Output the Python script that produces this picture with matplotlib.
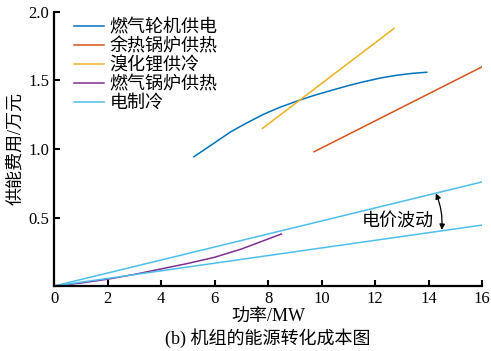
import matplotlib as mpl
import matplotlib.pyplot as plt
import numpy as np

mpl.rcParams["font.family"] = ["Liberation Serif", "Noto Sans CJK SC"]
mpl.rcParams["axes.unicode_minus"] = False

# 燃气轮机供电
gt_x = [5.23, 5.96, 6.6, 7.20, 7.85, 8.45, 9.13, 9.7, 10.32, 10.95, 11.56, 12.2, 12.81, 13.4, 13.93]
gt_y = [0.944, 1.04, 1.125, 1.19, 1.255, 1.305, 1.353, 1.39, 1.425, 1.46, 1.49, 1.518, 1.538, 1.552, 1.56]
# 余热锅炉供热
hb_x = [9.72, 16.0]
hb_y = [0.98, 1.60]
# 溴化锂供冷
li_x = [7.79, 12.71]
li_y = [1.15, 1.88]
# 燃气锅炉供热
gb_x = [0, 1, 2, 3, 4, 5, 6, 7, 8.5]
gb_y = [0, 0.022, 0.05, 0.085, 0.125, 0.165, 0.21, 0.27, 0.38]
# 电制冷 (两种电价)
ec_x = [0, 16]
ec_hi = [0, 0.76]
ec_lo = [0, 0.445]

colors = ["#0072BD", "#D95319", "#EDB120", "#7E2F8E", "#4DBEEE"]
labels = ["燃气轮机供电", "余热锅炉供热", "溴化锂供冷", "燃气锅炉供热", "电制冷"]

fig = plt.figure(figsize=(4.91, 3.51), dpi=100)
ax = fig.add_axes([0.11, 0.185, 0.872, 0.781])

lw = 1.1
ax.plot(gt_x, gt_y, color=colors[0], lw=lw, label=labels[0])
ax.plot(hb_x, hb_y, color=colors[1], lw=lw, label=labels[1])
ax.plot(li_x, li_y, color=colors[2], lw=lw, label=labels[2])
ax.plot(gb_x, gb_y, color=colors[3], lw=lw, label=labels[3])
ax.plot(ec_x, ec_hi, color=colors[4], lw=lw, label=labels[4])
ax.plot(ec_x, ec_lo, color=colors[4], lw=lw)

ax.annotate("", xy=(14.27, 0.677), xytext=(14.49, 0.41),
            arrowprops=dict(arrowstyle="<|-|>", color="black", lw=0.9,
                            mutation_scale=8, connectionstyle="arc3,rad=0.12",
                            shrinkA=0, shrinkB=0))
ax.text(11.5, 0.467, "电价波动", fontsize=13, va="center")

ax.set_xlim(0, 16)
ax.set_ylim(0, 2.0)
ax.set_xticks(np.arange(0, 17, 2))
ax.set_yticks([0, 0.5, 1.0, 1.5, 2.0])
ax.set_yticklabels(["", "0.5", "1.0", "1.5", "2.0"])
ax.tick_params(direction="in", labelsize=12, width=1.5, length=4)
for s in ["top", "right"]:
    ax.spines[s].set_visible(False)
for s in ["left", "bottom"]:
    ax.spines[s].set_linewidth(1.6)

ax.set_xlabel("功率/MW", fontsize=13, labelpad=1)
ax.set_ylabel("供能费用/万元", fontsize=13, labelpad=3)
fig.text(0.545, 0.02, "(b) 机组的能源转化成本图", ha="center", fontsize=13)

ax.legend(loc="upper left", frameon=False, fontsize=13, handlelength=1.65,
          handletextpad=0.3, labelspacing=0.1, borderaxespad=0.0,
          bbox_to_anchor=(0.03, 1.0))

fig.savefig("out.png", dpi=100)
